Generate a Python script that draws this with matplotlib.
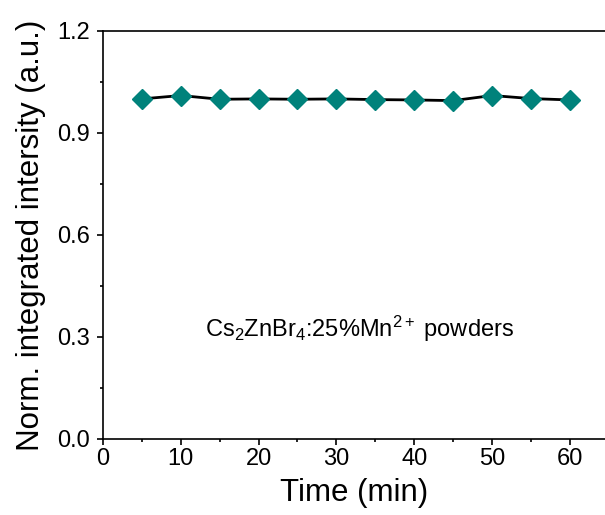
import matplotlib
matplotlib.use("Agg")
import matplotlib.pyplot as plt
from matplotlib.ticker import MultipleLocator

plt.rcParams['font.family'] = ['Liberation Sans', 'DejaVu Sans']
plt.rcParams['mathtext.fontset'] = 'custom'
plt.rcParams['mathtext.rm'] = 'Liberation Sans'
plt.rcParams['mathtext.it'] = 'Liberation Sans:italic'

time_min = [5, 10, 15, 20, 25, 30, 35, 40, 45, 50, 55, 60]
norm_intensity = [1.0, 1.01, 0.999, 1.0, 0.999, 1.0, 0.998, 0.997, 0.995, 1.01, 1.001, 0.997]

fig = plt.figure(figsize=(6.05, 5.15), dpi=100)
ax = fig.add_axes([0.170, 0.1476, 0.830, 0.7924])

ax.plot(time_min, norm_intensity, color='black', lw=2, marker='D',
        markersize=10.3, markerfacecolor='#00827b', markeredgecolor='#00827b')

ax.set_xlim(0, 64.5)
ax.set_ylim(0, 1.2)
ax.xaxis.set_major_locator(MultipleLocator(10))
ax.xaxis.set_minor_locator(MultipleLocator(5))
ax.yaxis.set_major_locator(MultipleLocator(0.3))
ax.yaxis.set_minor_locator(MultipleLocator(0.15))
ax.yaxis.set_major_formatter(plt.FormatStrFormatter('%.1f'))

ax.spines['right'].set_visible(False)
for s in ['left', 'bottom', 'top']:
    ax.spines[s].set_linewidth(1.2)
ax.tick_params(which='major', direction='out', length=4.5, width=1.2, labelsize=17)
ax.tick_params(which='minor', direction='out', length=2.5, width=1.2)
ax.tick_params(axis='x', which='major', pad=2)
ax.tick_params(axis='y', which='major', pad=5)

ax.set_xlabel('Time (min)', fontsize=22.5, labelpad=6)
ax.set_ylabel('Norm. integrated intersity (a.u.)', fontsize=22.5, labelpad=8)

# sample label sits with its baseline on the 0.3 level
ax.text(33, 0.3, r'Cs$_2$ZnBr$_4$:25%Mn$^{2+}$ powders',
        ha='center', va='baseline', fontsize=17)

fig.savefig('out.png', dpi=100)
